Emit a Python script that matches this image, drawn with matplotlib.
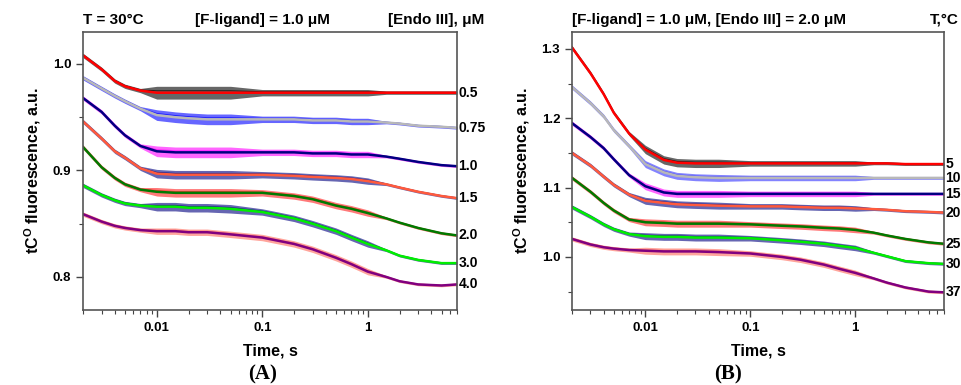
import numpy as np
import matplotlib
matplotlib.use("Agg")
import matplotlib.pyplot as plt
from matplotlib.ticker import (FixedLocator, FixedFormatter, LogLocator, NullFormatter,
                               MultipleLocator, FormatStrFormatter)

plt.rcParams['font.family'] = ['Liberation Sans', 'DejaVu Sans']
plt.rcParams['font.weight'] = 'bold'
plt.rcParams['mathtext.fontset'] = 'custom'
plt.rcParams['mathtext.rm'] = 'Liberation Sans:bold'
plt.rcParams['mathtext.bf'] = 'Liberation Sans:bold'

# ---------------- Data ----------------
time_s = [0.002, 0.003, 0.004, 0.005, 0.007, 0.01, 0.015, 0.02, 0.03, 0.05,
          0.1, 0.2, 0.3, 0.5, 0.7, 1.0, 1.5, 2.0, 3.0, 5.0, 7.0]

# Panel A: [Endo III], uM  (fit curves)
endo_labels = ["0.5", "0.75", "1.0", "1.5", "2.0", "3.0", "4.0"]
fitA_05  = [1.008, 0.995, 0.984, 0.979, 0.975, 0.973, 0.973, 0.973, 0.973, 0.973,
            0.973, 0.973, 0.973, 0.973, 0.973, 0.973, 0.973, 0.973, 0.973, 0.973, 0.973]
fitA_075 = [0.987, 0.977, 0.970, 0.965, 0.958, 0.952, 0.950, 0.949, 0.948, 0.948,
            0.948, 0.948, 0.947, 0.947, 0.946, 0.946, 0.945, 0.944, 0.942, 0.941, 0.940]
fitA_10  = [0.968, 0.955, 0.942, 0.933, 0.923, 0.918, 0.917, 0.917, 0.917, 0.917,
            0.917, 0.917, 0.916, 0.916, 0.915, 0.915, 0.913, 0.911, 0.908, 0.905, 0.904]
fitA_15  = [0.946, 0.930, 0.918, 0.912, 0.902, 0.897, 0.896, 0.896, 0.896, 0.896,
            0.896, 0.895, 0.894, 0.893, 0.892, 0.890, 0.887, 0.884, 0.880, 0.876, 0.874]
fitA_20  = [0.922, 0.903, 0.893, 0.887, 0.882, 0.880, 0.879, 0.879, 0.879, 0.879,
            0.879, 0.876, 0.873, 0.867, 0.864, 0.860, 0.855, 0.851, 0.846, 0.841, 0.839]
fitA_30  = [0.886, 0.877, 0.872, 0.869, 0.867, 0.866, 0.866, 0.865, 0.865, 0.864,
            0.861, 0.855, 0.850, 0.843, 0.837, 0.831, 0.825, 0.820, 0.816, 0.813, 0.813]
fitA_40  = [0.859, 0.852, 0.848, 0.846, 0.844, 0.843, 0.843, 0.842, 0.842, 0.840,
            0.837, 0.831, 0.826, 0.818, 0.812, 0.805, 0.800, 0.796, 0.793, 0.792, 0.793]
# noise half-width of the raw traces: [t<0.008, 0.008-0.1 s, 0.1-1 s, >1 s]
noiseA = [[0.002, 0.006, 0.003, 0.0015], [0.002, 0.005, 0.003, 0.0012],
          [0.002, 0.005, 0.003, 0.0012], [0.002, 0.004, 0.003, 0.0012],
          [0.002, 0.004, 0.003, 0.0012], [0.002, 0.004, 0.003, 0.0012],
          [0.002, 0.003, 0.003, 0.0012]]

# Panel B: T, deg C (fit curves)
temp_labels = ["5", "10", "15", "20", "25", "30", "37"]
fitB_5  = [1.302, 1.265, 1.235, 1.208, 1.178, 1.155, 1.140, 1.136, 1.135, 1.135,
           1.135, 1.135, 1.135, 1.135, 1.135, 1.135, 1.135, 1.135, 1.134, 1.134, 1.134]
fitB_10 = [1.245, 1.222, 1.203, 1.183, 1.160, 1.134, 1.122, 1.117, 1.115, 1.114,
           1.114, 1.114, 1.114, 1.114, 1.114, 1.114, 1.114, 1.114, 1.114, 1.114, 1.114]
fitB_15 = [1.193, 1.173, 1.157, 1.141, 1.118, 1.102, 1.093, 1.091, 1.091, 1.091,
           1.091, 1.091, 1.091, 1.091, 1.091, 1.091, 1.091, 1.091, 1.091, 1.091, 1.091]
fitB_20 = [1.150, 1.132, 1.116, 1.104, 1.090, 1.081, 1.078, 1.076, 1.075, 1.074,
           1.073, 1.073, 1.072, 1.071, 1.071, 1.070, 1.069, 1.068, 1.066, 1.065, 1.064]
fitB_25 = [1.114, 1.094, 1.078, 1.067, 1.054, 1.050, 1.049, 1.048, 1.048, 1.048,
           1.047, 1.045, 1.044, 1.042, 1.041, 1.039, 1.035, 1.031, 1.026, 1.021, 1.019]
fitB_30 = [1.072, 1.058, 1.047, 1.040, 1.033, 1.030, 1.029, 1.029, 1.028, 1.028,
           1.027, 1.024, 1.022, 1.019, 1.016, 1.013, 1.006, 1.001, 0.994, 0.991, 0.990]
fitB_37 = [1.026, 1.018, 1.014, 1.012, 1.010, 1.009, 1.008, 1.008, 1.008, 1.007,
           1.005, 1.000, 0.996, 0.989, 0.983, 0.977, 0.969, 0.963, 0.956, 0.950, 0.949]
noiseB = [[0.003, 0.006, 0.004, 0.002], [0.003, 0.005, 0.004, 0.002],
          [0.003, 0.005, 0.004, 0.002], [0.003, 0.005, 0.004, 0.002],
          [0.003, 0.005, 0.004, 0.002], [0.003, 0.005, 0.004, 0.002],
          [0.003, 0.005, 0.004, 0.002]]

raw_colors_A = ["#000000", "#0000ff", "#ff00ff", "#000080", "#ff2020", "#000080", "#ff6a5a"]
fit_colors_A = ["#ff0000", "#b8b8b8", "#000080", "#ff5a3c", "#007a00", "#00ee00", "#800080"]
raw_colors_B = ["#000000", "#3030ff", "#ff00ff", "#000080", "#ff2020", "#000080", "#ff6a5a"]
fit_colors_B = ["#ff0000", "#b8b8b8", "#000080", "#ff5a3c", "#007a00", "#00ee00", "#800080"]

fitsA = [fitA_05, fitA_075, fitA_10, fitA_15, fitA_20, fitA_30, fitA_40]
fitsB = [fitB_5, fitB_10, fitB_15, fitB_20, fitB_25, fitB_30, fitB_37]

W, H = 962, 385
fig = plt.figure(figsize=(W / 100, H / 100), dpi=100)
fig.patch.set_facecolor("white")

axA = fig.add_axes([83 / W, 1 - 310 / H, (457 - 83) / W, (310 - 32) / H])
axB = fig.add_axes([572 / W, 1 - 310 / H, (944 - 572) / W, (310 - 32) / H])


def draw_panel(ax, fits, noises, raw_colors, fit_colors, labels):
    t = np.array(time_s)
    for fit, nz, rc, fc, lab in zip(fits, noises, raw_colors, fit_colors, labels):
        y = np.array(fit)
        hw = np.where(t < 0.008, nz[0],
                      np.where(t < 0.1, nz[1], np.where(t <= 1.0, nz[2], nz[3])))
        ax.fill_between(t, y - hw, y + hw, color=rc, alpha=0.6, lw=0)
        ax.plot(t, y + 0.3 * hw, color=rc, lw=0.8, alpha=0.7)
        ax.plot(t, y, color=fc, lw=1.8)
        ax.text(1.004, y[-1], lab, transform=ax.get_yaxis_transform(),
                ha="left", va="center", fontsize=10, fontweight="bold")


def style_axis(ax, ylim, major, minor):
    ax.set_xscale("log")
    ax.set_xlim(0.002, 7)
    ax.set_ylim(*ylim)
    ax.xaxis.set_major_locator(FixedLocator([0.01, 0.1, 1]))
    ax.xaxis.set_major_formatter(FixedFormatter(["0.01", "0.1", "1"]))
    ax.xaxis.set_minor_locator(LogLocator(base=10, subs=np.arange(2, 10), numticks=20))
    ax.xaxis.set_minor_formatter(NullFormatter())
    ax.yaxis.set_major_locator(MultipleLocator(major))
    ax.yaxis.set_minor_locator(MultipleLocator(minor))
    ax.yaxis.set_major_formatter(FormatStrFormatter("%.1f"))
    ax.tick_params(which="major", direction="out", length=5, width=1, labelsize=9.5,
                   top=False, right=False, color="#444444")
    ax.tick_params(which="minor", direction="out", length=3, width=0.8,
                   top=False, right=False, color="#444444")
    for s in ax.spines.values():
        s.set_color("#555555")
        s.set_linewidth(1.2)
    ax.set_xlabel("Time, s", fontsize=11.5, fontweight="bold", labelpad=7)
    ax.set_ylabel(r"tC$^{\mathbf{O}}$ fluorescence, a.u.", fontsize=11.5,
                  fontweight="bold", labelpad=7)


draw_panel(axA, fitsA, noiseA, raw_colors_A, fit_colors_A, endo_labels)
style_axis(axA, (0.769, 1.030), 0.1, 0.05)

draw_panel(axB, fitsB, noiseB, raw_colors_B, fit_colors_B, temp_labels)
style_axis(axB, (0.9235, 1.3245), 0.1, 0.05)

for ax in (axA, axB):
    for lab in ax.get_xticklabels() + ax.get_yticklabels():
        lab.set_fontweight("bold")

# titles
ty = 1 - 20 / H
fig.text(83 / W, ty, "T = 30°C", ha="left", va="center", fontsize=11, fontweight="bold")
fig.text(262 / W, ty, "[F-ligand] = 1.0 μM", ha="center", va="center", fontsize=11, fontweight="bold")
fig.text(388 / W, ty, "[Endo III], μM", ha="left", va="center", fontsize=11, fontweight="bold")
fig.text(572 / W, ty, "[F-ligand] = 1.0 μM, [Endo III] = 2.0 μM", ha="left", va="center",
         fontsize=11, fontweight="bold")
fig.text(930 / W, ty, "T,°C", ha="left", va="center", fontsize=11, fontweight="bold")

# panel letters
fig.text(263 / W, 1 - 374 / H, "(A)", ha="center", va="center", fontsize=15, fontweight="bold",
         family="Liberation Serif")
fig.text(728 / W, 1 - 374 / H, "(B)", ha="center", va="center", fontsize=15, fontweight="bold",
         family="Liberation Serif")

fig.savefig("out.png", dpi=100, facecolor="white")
